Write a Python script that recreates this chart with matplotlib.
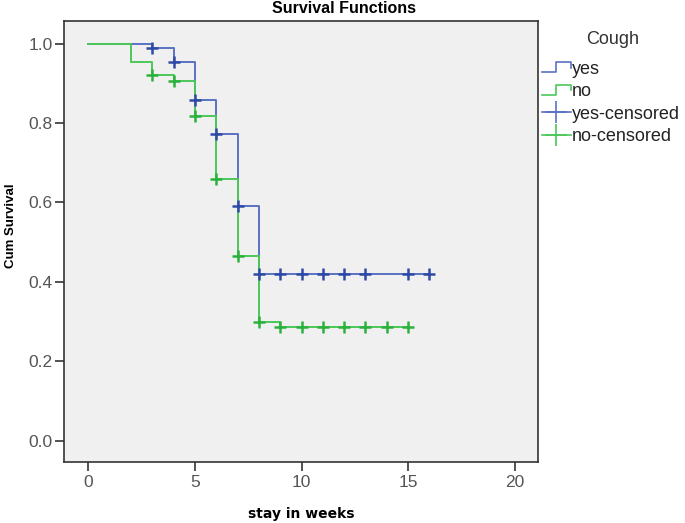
import numpy as np
import matplotlib
matplotlib.use('Agg')
import matplotlib.pyplot as plt
from matplotlib.lines import Line2D
from matplotlib.legend_handler import HandlerBase

plt.rcParams['font.family'] = ['Liberation Sans', 'DejaVu Sans']

# step curves (time, cumulative survival)
yes_t = [0, 3, 4, 5, 6, 7, 8, 16]
yes_s = [1.0, 0.99, 0.953, 0.857, 0.773, 0.59, 0.42, 0.42]
no_t = [0, 2, 3, 4, 5, 6, 7, 8, 9, 15]
no_s = [1.0, 0.955, 0.92, 0.907, 0.818, 0.66, 0.466, 0.298, 0.287, 0.287]

# censored times
yes_cens = [3, 4, 5, 6, 7, 8, 9, 10, 11, 12, 13, 15, 16]
no_cens = [3, 4, 5, 6, 7, 8, 9, 10, 11, 12, 13, 14, 15]

blue_line = '#5a72c2'
blue_mark = '#2f4aa6'
green_line = '#4cc75a'
green_mark = '#2bb23d'


def surv_at(t, s, times):
	idx = np.searchsorted(t, times, side='right') - 1
	return np.array(s)[idx]


class StepHandler(HandlerBase):
	def create_artists(self, legend, orig_handle, xdescent, ydescent, width, height, fontsize, trans):
		x0 = -xdescent
		y0 = -ydescent
		xs = [x0, x0 + width * 0.5, x0 + width * 0.5, x0 + width, x0 + width]
		ys = [y0 + height * 0.1, y0 + height * 0.1, y0 + height * 0.9, y0 + height * 0.9, y0 + height * 0.45]
		ln = Line2D(xs, ys, color=orig_handle.get_color(), lw=1.2, transform=trans)
		return [ln]


fig = plt.figure(figsize=(6.85, 5.23), dpi=100)
ax = fig.add_axes([0.0934, 0.1166, 0.692, 0.8432])
ax.set_facecolor('#f0f0f0')

l_yes, = ax.step(yes_t, yes_s, where='post', color=blue_line, lw=1.4)
l_no, = ax.step(no_t, no_s, where='post', color=green_line, lw=1.4)
ax.plot(yes_cens, surv_at(yes_t, yes_s, yes_cens), ls='none', marker='+', ms=9, mew=1.8, color=blue_mark)
ax.plot(no_cens, surv_at(no_t, no_s, no_cens), ls='none', marker='+', ms=9, mew=1.8, color=green_mark)

ax.set_xlim(-1.15, 21.1)
ax.set_ylim(-0.054, 1.057)
ax.set_xticks([0, 5, 10, 15, 20])
ax.set_yticks([0.0, 0.2, 0.4, 0.6, 0.8, 1.0])
ax.set_yticklabels(['0.0', '0.2', '0.4', '0.6', '0.8', '1.0'])
ax.tick_params(length=6.5, width=1.2, colors='#333333', labelcolor='#555555', labelsize=12.5)
ax.tick_params(axis='x', pad=3)
ax.tick_params(axis='y', pad=1.5)
for sp in ax.spines.values():
	sp.set_color('#333333')
	sp.set_linewidth(1.2)

ax.set_title('Survival Functions', fontsize=11.5, fontweight='bold', pad=6, x=0.59)
ax.set_xlabel('stay in weeks', fontsize=10, fontweight='bold', labelpad=12, family='DejaVu Sans')
ax.set_ylabel('Cum Survival', fontsize=9.5, fontweight='bold',
			  family=['Liberation Sans Narrow', 'Liberation Sans'])
ax.yaxis.set_label_coords(-0.1, 0.537)

# legend title drawn on its own so the gap to the entries matches
fig.text(613 / 685, 1 - 39 / 523, 'Cough', ha='center', va='center', fontsize=13, color='#333333')

h_yes_c = Line2D([], [], color=blue_line, marker='+', ms=16, mew=1.2, lw=1.2)
h_no_c = Line2D([], [], color=green_line, marker='+', ms=16, mew=1.2, lw=1.2)
leg = ax.legend([l_yes, l_no, h_yes_c, h_no_c], ['yes', 'no', 'yes-censored', 'no-censored'],
				handler_map={l_yes: StepHandler(), l_no: StepHandler()},
				frameon=False, fontsize=13,
				loc='upper left', bbox_to_anchor=(1.008, 0.91), handlelength=1.6, handletextpad=0.05,
				labelspacing=0.3, borderaxespad=0.0, borderpad=0.0)
for t in leg.get_texts():
	t.set_color('#222222')

fig.savefig('out.png', dpi=100, facecolor='white')
